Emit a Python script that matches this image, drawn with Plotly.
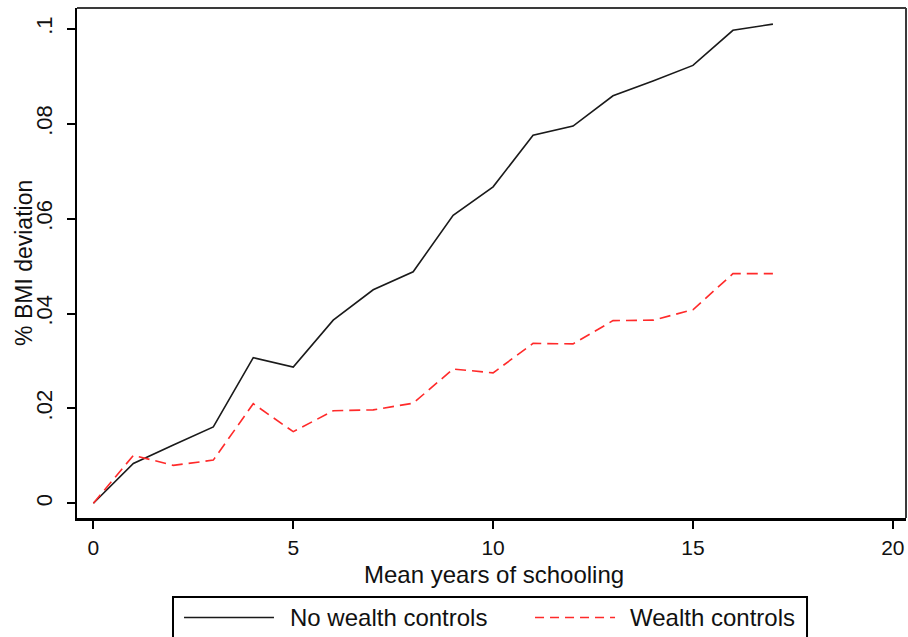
import plotly.graph_objects as go

# Mean years of schooling (x) and estimated % BMI deviation for two specifications
years = list(range(0, 18))
no_wealth = [0.0, 0.0084, 0.0123, 0.0161, 0.0307, 0.0287, 0.0386, 0.0450, 0.0488,
             0.0607, 0.0667, 0.0776, 0.0795, 0.0859, 0.0890, 0.0923, 0.0997, 0.1010]
wealth = [0.0, 0.0101, 0.0080, 0.0091, 0.0210, 0.0151, 0.0195, 0.0197, 0.0211,
          0.0283, 0.0275, 0.0337, 0.0336, 0.0385, 0.0386, 0.0408, 0.0484, 0.0484]
series_names = ["No wealth controls", "Wealth controls"]
x_title = "Mean years of schooling"
y_title = "% BMI deviation"

y_tickvals = [0, 0.02, 0.04, 0.06, 0.08, 0.1]
y_ticktext = ["0", ".02", ".04", ".06", ".08", ".1"]
x_tickvals = [0, 5, 10, 15, 20]

FONT = "Liberation Sans, Arial, sans-serif"
TXT = "#111111"
styles = [dict(color="#1a1a1a", width=1.6, dash="solid"),
          dict(color="#ff2a2a", width=1.6, dash="11px,6px")]

fig = go.Figure()
for name, vals, st in zip(series_names, [no_wealth, wealth], styles):
    fig.add_trace(go.Scatter(x=years, y=vals, mode="lines", name=name,
                             line=st, showlegend=False))

fig.update_layout(
    width=908, height=637,
    margin=dict(l=77, r=2, t=8, b=119),
    paper_bgcolor="white", plot_bgcolor="white",
    font=dict(family=FONT, size=22, color=TXT),
)
fig.update_xaxes(
    range=[-0.41, 20.33], tickvals=x_tickvals, showgrid=False, zeroline=False,
    showline=True, linecolor="black", linewidth=3,
    ticks="outside", ticklen=8, tickwidth=1.5, tickcolor="black",
    tickfont=dict(size=21), ticklabelstandoff=1,
)
fig.update_yaxes(
    range=[-0.0031, 0.1044], tickvals=y_tickvals, ticktext=y_ticktext,
    showgrid=False, zeroline=False,
    showline=True, linecolor="black", linewidth=2,
    ticks="outside", ticklen=8, tickwidth=1.5, tickcolor="black",
    tickangle=-90, tickfont=dict(size=22), ticklabelstandoff=6,
)

# axis titles
fig.add_annotation(text=x_title, xref="paper", yref="paper", x=0.503, y=-0.110,
                   xanchor="center", yanchor="middle", showarrow=False,
                   font=dict(size=24, color=TXT))
fig.add_annotation(text=y_title, xref="paper", yref="paper", x=-0.0640, y=0.5,
                   xanchor="center", yanchor="middle", textangle=-90,
                   showarrow=False, font=dict(size=23, color=TXT))

# plot frame (top and right edges)
fig.add_shape(type="line", xref="paper", yref="paper", x0=0, x1=1, y0=1, y1=1,
              line=dict(color="#3a3a3a", width=2))
fig.add_shape(type="line", xref="paper", yref="paper", x0=1, x1=1, y0=0, y1=1,
              line=dict(color="#3a3a3a", width=2))

# legend box below the plot
fig.add_shape(type="rect", xref="paper", yref="paper",
              x0=0.1158, x1=0.8806, y0=-0.1549, y1=-0.2600,
              line=dict(color="black", width=2), fillcolor="white")
sample_x = [(0.1291, 0.2376), (0.5525, 0.6490)]
label_x = [0.2545, 0.6647]
leg_y = -0.1951
for name, st, (sx0, sx1), lx in zip(series_names, styles, sample_x, label_x):
    fig.add_shape(type="line", xref="paper", yref="paper",
                  x0=sx0, x1=sx1, y0=leg_y, y1=leg_y,
                  line=dict(color=st["color"], width=st["width"],
                            dash="9px,6px" if st["dash"] != "solid" else "solid"))
    fig.add_annotation(text=name, xref="paper", yref="paper", x=lx, y=leg_y,
                       xanchor="left", yanchor="middle", showarrow=False,
                       font=dict(size=24, color=TXT))

fig.write_html("out.html")
